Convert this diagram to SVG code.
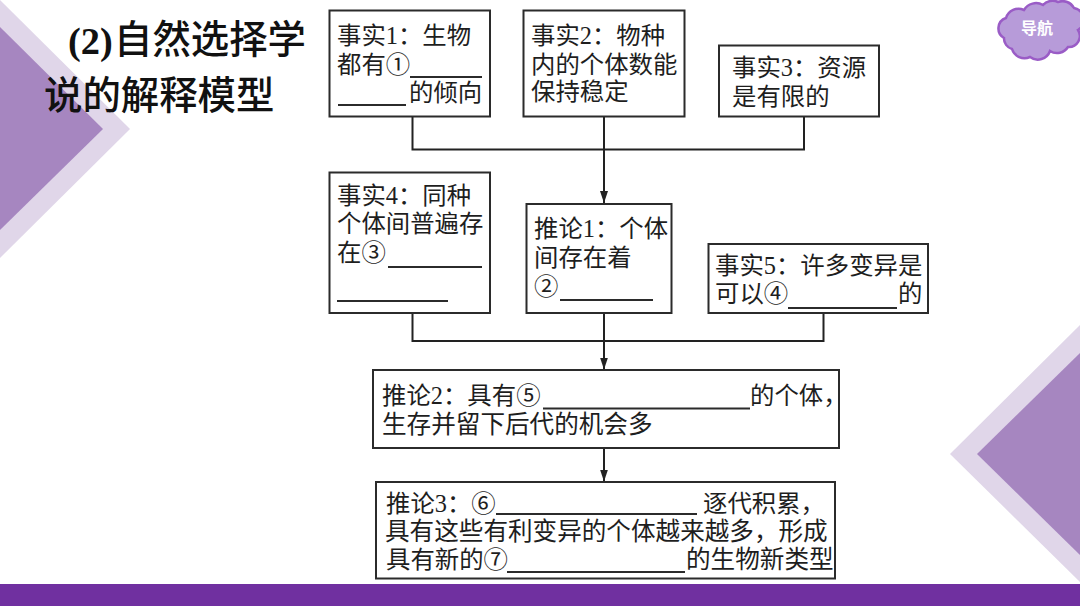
<svg xmlns="http://www.w3.org/2000/svg" width="1080" height="606" viewBox="0 0 1080 606">
<style>
.box{fill:#fff;stroke:#2b2b2b;stroke-width:2}
.t{font-family:"Liberation Serif","Noto Sans CJK SC",serif;font-size:24.4px;fill:#1e1e1e}
.w{font-size:24.6px}
.u{stroke:#2b2b2b;stroke-width:2;fill:none}
.c{stroke:#222;stroke-width:2;fill:none}
.title{font-family:"Noto Sans CJK SC","Liberation Sans",sans-serif;font-size:38.400px;fill:#111;font-weight:500}
</style>
<defs>
<marker id="arrow" markerUnits="userSpaceOnUse" markerWidth="14" markerHeight="10" refX="12" refY="5" viewBox="0 0 14 10" orient="auto"><path d="M0 1 L12 5 L0 9 Z" fill="#222"/></marker>
</defs>
<rect width="1080" height="606" fill="#fff"/>
<g id="decor">
<polygon points="0,0 130,129 0,258" fill="#e0d6e9"/>
<polygon points="0,27 103,129 0,230" fill="#a686c0"/>
<polygon points="1080,325 950,454 1080,582" fill="#e0d6e9"/>
<polygon points="1080,353 977,454 1080,555" fill="#a686c0"/>
<rect x="0" y="584" width="1080" height="22" fill="#7030a0"/>
</g>
<g id="title">
<text class="title" x="68" y="54" style="font-family:'Liberation Serif',serif;font-weight:700">(2)</text>
<text class="title" x="114" y="53">自然选择学</text>
<text class="title" x="44" y="109">说的解释模型</text>
</g>
<g id="nav">
<path d="M1006 18 A13 13 0 0 1 1024 10 A14 14 0 0 1 1043 5 A13 13 0 0 1 1058 2 A13 13 0 0 1 1074 8 A12 12 0 0 1 1078 30 A11 11 0 0 1 1068 47 A13 13 0 0 1 1050 51 A13 13 0 0 1 1030 57 A13 13 0 0 1 1012 49 A11 11 0 0 1 1004 38 A11 11 0 0 1 1006 18 Z" fill="#b79bd9" stroke="#9a5cc6" stroke-width="2.500"/>
<text x="1037" y="34" text-anchor="middle" font-family="Noto Sans CJK SC,sans-serif" font-size="16" font-weight="700" fill="#fff">导航</text>
</g>
<g id="connectors">
<path class="c" d="M412.500 116.500V149.500H804V116.500"/>
<path class="c" d="M604 116.500V203" marker-end="url(#arrow)"/>
<path class="c" d="M412.500 313V341H823.500V313"/>
<path class="c" d="M604 313V369.500" marker-end="url(#arrow)"/>
<path class="c" d="M604 448V481.500" marker-end="url(#arrow)"/>
</g>
<g id="fact1">
<rect class="box" x="329.500" y="10.500" width="160.500" height="106"/>
<text class="t" x="337" y="44">事实1：生物</text>
<text class="t" x="337" y="73">都有①</text>
<path class="u" d="M410 77H482M338 105H406"/>
<text class="t" x="409" y="101">的倾向</text>
</g>
<g id="fact2">
<rect class="box" x="523.500" y="10.500" width="161" height="106"/>
<text class="t" x="531" y="44">事实2：物种</text>
<text class="t" x="531" y="73">内的个体数能</text>
<text class="t" x="531" y="100">保持稳定</text>
</g>
<g id="fact3">
<rect class="box" x="719" y="45.500" width="160" height="71"/>
<text class="t" x="732" y="76">事实3：资源</text>
<text class="t" x="732" y="105">是有限的</text>
</g>
<g id="fact4">
<rect class="box" x="329.500" y="172.500" width="160.500" height="140.500"/>
<text class="t" x="337" y="204">事实4：同种</text>
<text class="t" x="337" y="232">个体间普遍存</text>
<text class="t" x="337" y="261">在③</text>
<path class="u" d="M388 267H482M337 301H448"/>
</g>
<g id="inference1">
<rect class="box" x="526.500" y="204" width="145" height="109"/>
<text class="t" x="534" y="237">推论1：个体</text>
<text class="t" x="534" y="266">间存在着</text>
<text class="t" x="534" y="295">②</text>
<path class="u" d="M560 300H653"/>
</g>
<g id="fact5">
<rect class="box" x="708.500" y="244" width="219.500" height="69"/>
<text class="t" x="715" y="274">事实5：许多变异是</text>
<text class="t" x="715" y="302">可以④</text>
<path class="u" d="M788 308H897"/>
<text class="t" x="898" y="302">的</text>
</g>
<g id="inference2">
<rect class="box" x="373" y="370" width="466" height="78"/>
<text class="t" x="382" y="404">推论2：具有⑤</text>
<path class="u" d="M543 408.500H750"/>
<text class="t" x="750" y="404">的个体，</text>
<text class="t w" x="382" y="433">生存并留下后代的机会多</text>
</g>
<g id="inference3">
<rect class="box" x="376" y="482" width="459" height="96.500"/>
<text class="t" x="386" y="512">推论3：⑥</text>
<path class="u" d="M496 514H697"/>
<text class="t" x="703" y="512">逐代积累，</text>
<text class="t w" x="385" y="540">具有这些有利变异的个体越来越多，形成</text>
<text class="t" x="386" y="568">具有新的⑦</text>
<path class="u" d="M507 572H685"/>
<text class="t w" x="686" y="568">的生物新类型</text>
</g>
</svg>
